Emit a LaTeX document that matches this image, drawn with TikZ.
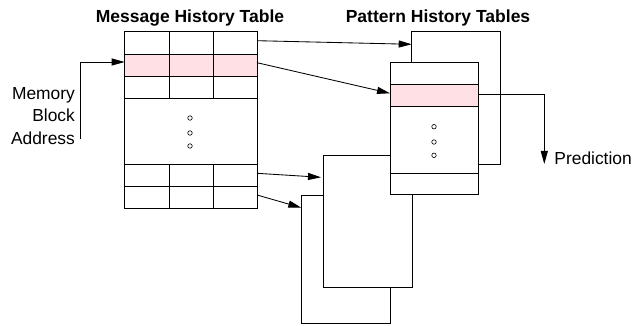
\documentclass[tikz,border=0pt]{standalone}
\usepackage{fontspec}
\setmainfont{Liberation Sans}
\usetikzlibrary{arrows.meta}
\definecolor{rowpink}{RGB}{255,224,228}
\begin{document}
\begin{tikzpicture}[x=1pt,y=-1pt, line width=0.85pt,
  box/.style={draw, fill=white, inner sep=0pt, outer sep=0pt, anchor=north west},
  arr/.style={-{Triangle[length=13pt,width=7pt]}},
  lbl/.style={font=\fontsize{17.4}{21}\selectfont, inner sep=0pt},
  ttl/.style={font=\fontsize{17.5}{21}\selectfont\bfseries, inner sep=0pt},
  dotc/.style={circle, draw, fill=white, inner sep=0pt, minimum size=4.5pt, line width=0.6pt}]
\useasboundingbox (0,0) rectangle (640,326);

% Titles
\node[ttl, anchor=base] (t1) at (190,22.7) {Message History Table};
\node[ttl, anchor=base] (t2) at (438,22.7) {Pattern History Tables};

% Message History Table
\node[box, minimum width=132.3pt, minimum height=176.3pt] (mht) at (124.7,31.7) {};
\fill[rowpink] (124.7,54) rectangle (257,76);
\draw (124.7,54) -- (257,54);
\draw (124.7,76) -- (257,76);
\draw (124.7,98) -- (257,98);
\draw (124.7,164) -- (257,164);
\draw (124.7,186) -- (257,186);
\draw (169,31.7) -- (169,98);
\draw (213,31.7) -- (213,98);
\draw (169,164) -- (169,208);
\draw (213,164) -- (213,208);
\draw (mht.north west) rectangle (mht.south east);
\node[dotc] (m1) at (190,118) {};
\node[dotc] (m2) at (190,133) {};
\node[dotc] (m3) at (190,146) {};

% Memory Block Address
\node[lbl, anchor=base east] (mem1) at (75.3,99.3) {Memory};
\node[lbl, anchor=base east] (mem2) at (75.3,121.8) {Block};
\node[lbl, anchor=base east] (mem3) at (75.3,144.3) {Address};
\coordinate (mbaS) at (80,139);
\coordinate (mbaE) at (124.7,62);
\draw[arr] (mbaS) |- (mbaE);

% Pattern History Tables (back to front)
\node[box, minimum width=88.7pt, minimum height=128pt] (pD) at (301.3,195) {};
\node[box, minimum width=88.7pt, minimum height=132.7pt] (pC) at (323.3,155) {};
\node[box, minimum width=88.6pt, minimum height=132.6pt] (pA) at (411.7,31.7) {};
\node[box, minimum width=88.3pt, minimum height=132pt] (pB) at (390,62.3) {};
\fill[rowpink] (390,84.3) rectangle (478.3,106.3);
\draw (390,84.3) -- (478.3,84.3);
\draw (390,106.3) -- (478.3,106.3);
\draw (390,173) -- (478.3,173);
\draw (pB.north west) rectangle (pB.south east);
\node[dotc] (b1) at (434,126.7) {};
\node[dotc] (b2) at (434,142) {};
\node[dotc] (b3) at (434,155.3) {};

% Connectors
\coordinate (s1) at (257,40.7);
\coordinate (e1) at (411.7,44.3);
\coordinate (s2) at (257,62.7);
\coordinate (e2) at (390,93.3);
\coordinate (s3) at (257,173.3);
\coordinate (e3) at (321,177.3);
\coordinate (s4) at (257,195);
\coordinate (e4) at (301.3,207.7);
\draw[arr] (s1) -- (e1);
\draw[arr] (s2) -- (e2);
\draw[arr] (s3) -- (e3);
\draw[arr] (s4) -- (e4);

% Prediction
\coordinate (ps) at (478.3,94);
\coordinate (pe) at (544.3,164);
\draw[arr] (ps) -| (pe);
\node[lbl, anchor=base west] (pred) at (554,164.3) {Prediction};
\end{tikzpicture}
\end{document}
